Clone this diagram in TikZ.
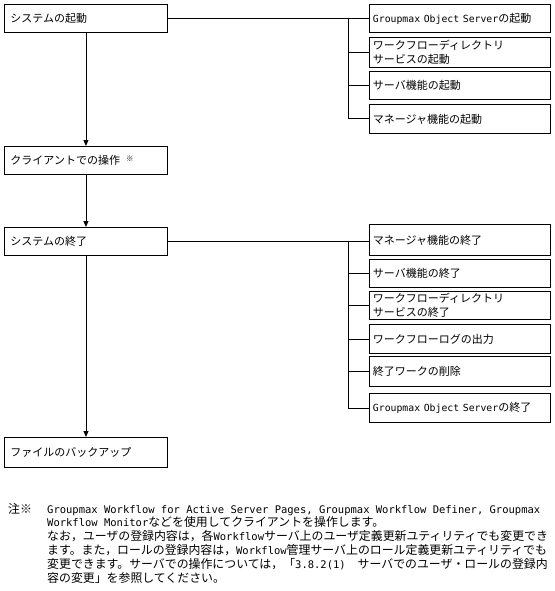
\documentclass[tikz,border=0pt]{standalone}
\usepackage{fontspec}
\setmainfont{Noto Sans CJK JP}
\setmonofont{DejaVu Sans Mono}
\usetikzlibrary{arrows.meta}
\def\mosz{9.8pt}
\newcommand\mo[1]{{\ttfamily\fontsize{\mosz}{14pt}\selectfont #1}}
\begin{document}
\begin{tikzpicture}[x=1pt,y=-1pt,
  box/.style={draw, line width=0.9pt, anchor=north west, inner ysep=0pt, align=left,
    font=\fontsize{11pt}{14pt}\selectfont},
  lbox/.style={box, text width=151pt, inner xsep=6pt},
  rbox/.style={box, text width=174pt, inner xsep=3.5pt},
  conn/.style={line width=0.9pt},
  arr/.style={line width=0.9pt, -{Triangle[length=6pt,width=5pt]}},
  note/.style={anchor=base west, inner sep=0pt, font=\fontsize{11.9pt}{14pt}\selectfont\def\mosz{10.5pt}}]
\useasboundingbox (0,0) rectangle (554,591);
% left column
\node[lbox, minimum height=28pt] (L1) at (4,4) {システムの起動};
\node[lbox, minimum height=28pt] (L2) at (4,146) {クライアントでの操作\hspace{6pt}\raisebox{3pt}{\fontsize{7.5pt}{7.5pt}\selectfont ※}};
\node[lbox, minimum height=28pt] (L3) at (4,227) {システムの終了};
\node[lbox, minimum height=30pt] (L4) at (4,437) {ファイルのバックアップ};
% right column, start
\node[rbox, minimum height=28pt] (R1) at (369,4) {\mo{Groupmax Object Server}の起動};
\node[rbox, minimum height=30pt] (R2) at (369,37) {ワークフローディレクトリ\\サービスの起動};
\node[rbox, minimum height=28pt] (R3) at (369,71) {サーバ機能の起動};
\node[rbox, minimum height=29pt] (R4) at (369,104) {マネージャ機能の起動};
% right column, end
\node[rbox, minimum height=31pt] (R5) at (369,224) {マネージャ機能の終了};
\node[rbox, minimum height=28pt] (R6) at (369,259) {サーバ機能の終了};
\node[rbox, minimum height=28pt] (R7) at (369,291) {ワークフローディレクトリ\\サービスの終了};
\node[rbox, minimum height=29pt] (R8) at (369,324) {ワークフローログの出力};
\node[rbox, minimum height=30pt] (R9) at (369,356) {終了ワークの削除};
\node[rbox, minimum height=29pt] (R10) at (369,393) {\mo{Groupmax Object Server}の終了};
% connectors
\coordinate (T1) at (348,18);
\draw[conn] (L1.east) -- (R1.west);
\draw[conn] (T1) |- (R4.west);
\draw[conn] (T1 |- R2.west) -- (R2.west);
\draw[conn] (T1 |- R3.west) -- (R3.west);
\coordinate (T2) at (348,241);
\draw[conn] (L3.east) -- (L3.east -| R5.west);
\draw[conn] (T2) |- (R10.west);
\draw[conn] (T2 |- R6.west) -- (R6.west);
\draw[conn] (T2 |- R7.west) -- (R7.west);
\draw[conn] (T2 |- R8.west) -- (R8.west);
\draw[conn] (T2 |- R9.west) -- (R9.west);
\draw[arr] (L1.south) -- (L2.north);
\draw[arr] (L2.south) -- (L3.north);
\draw[arr] (L3.south) -- (L4.north);
% note
\node[note] (N0) at (8,513) {注※};
\node[note] (N1) at (47,513) {\mo{Groupmax Workflow for Active Server Pages, Groupmax Workflow Definer, Groupmax}};
\node[note] (N2) at (47,526.5) {\mo{Workflow Monitor}などを使用してクライアントを操作します。};
\node[note] (N3) at (47,540) {なお，ユーザの登録内容は，各\mo{Workflow}サーバ上のユーザ定義更新ユティリティでも変更でき};
\node[note] (N4) at (47,554) {ます。また，ロールの登録内容は，\mo{Workflow}管理サーバ上のロール定義更新ユティリティでも};
\node[note] (N5) at (47,568) {変更できます。サーバでの操作については，「\mo{3.8.2(1)}　サーバでのユーザ・ロールの登録内};
\node[note] (N6) at (47,582) {容の変更」を参照してください。};
\end{tikzpicture}
\end{document}
